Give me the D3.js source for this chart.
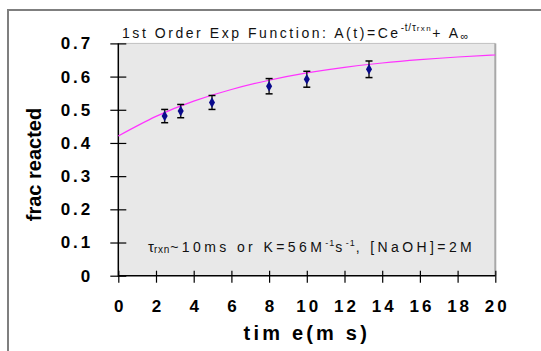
<!DOCTYPE html>
<html><head><meta charset="utf-8">
<script src="https://cdn.jsdelivr.net/npm/d3@7"></script>
<style>
body{margin:0;background:#fff;}
svg{display:block;font-family:"Liberation Sans",Arial,sans-serif;}
</style></head>
<body>
<svg id="c" width="541" height="351"></svg>
<script>
// data
const times = [2.46, 3.31, 4.97, 8.0, 10.0, 13.3];
const fracs = [0.481, 0.496, 0.522, 0.571, 0.592, 0.622];
const errs  = [0.020, 0.020, 0.021, 0.023, 0.024, 0.025];
const fitT  = [0, 2, 4, 6, 8, 10, 12, 14, 16, 18, 20];
const fitY  = [0.421, 0.480, 0.526, 0.561, 0.589, 0.611, 0.628, 0.641, 0.651, 0.659, 0.665];
const xTicks = [0, 2, 4, 6, 8, 10, 12, 14, 16, 18, 20];
const yTicks = [0, 0.1, 0.2, 0.3, 0.4, 0.5, 0.6, 0.7];
const yTickLabels = ["0", "0.1", "0.2", "0.3", "0.4", "0.5", "0.6", "0.7"];

const svg = d3.select("#c");
const L = 118.3, R = 495.3, T = 43.4, B = 275.7;
const x = d3.scaleLinear().domain([0, 20]).range([L, R]);
const y = d3.scaleLinear().domain([0, 0.7]).range([B, T]);

// outer frame
svg.append("rect").attr("x", 8).attr("y", 10).attr("width", 560).attr("height", 360)
  .attr("fill", "none").attr("stroke", "#7f7f7f").attr("stroke-width", 2);

// plot area
svg.append("rect").attr("x", L).attr("y", T).attr("width", R - L).attr("height", B - T)
  .attr("fill", "#e8e8e8");
svg.append("line").attr("x1", L).attr("x2", R).attr("y1", T).attr("y2", T)
  .attr("stroke", "#c0c0c0").attr("stroke-width", 1);
svg.append("line").attr("x1", R).attr("x2", R).attr("y1", T).attr("y2", B)
  .attr("stroke", "#a8a8a8").attr("stroke-width", 2);

// axes
const yAxis = d3.axisLeft(y).tickValues(yTicks).tickSize(8)
  .tickFormat((d, i) => yTickLabels[i]);
const gy = svg.append("g").attr("transform", `translate(${L},0)`).call(yAxis);
gy.select(".domain").remove();
gy.selectAll(".tick line").attr("x1", -8).attr("x2", 8).attr("stroke", "#000").attr("stroke-width", 1.2);
gy.selectAll(".tick text").attr("x", -25).attr("font-size", 17).attr("font-weight", "bold")
  .attr("letter-spacing", "3px").attr("fill", "#000").attr("font-family", "Liberation Sans, Arial, sans-serif");

const xAxis = d3.axisBottom(x).tickValues(xTicks).tickFormat(d3.format("d"));
const gx = svg.append("g").attr("transform", `translate(0,${B})`).call(xAxis);
gx.select(".domain").remove();
gx.selectAll(".tick line").attr("y1", -5).attr("y2", 7).attr("stroke", "#000").attr("stroke-width", 1.2);
gx.selectAll(".tick text").attr("y", 24).attr("dy", "0.71em").attr("font-size", 17).attr("font-weight", "bold")
  .attr("letter-spacing", "3px").attr("dx", "1.5px").attr("fill", "#000").attr("font-family", "Liberation Sans, Arial, sans-serif");

svg.append("line").attr("x1", L).attr("x2", L).attr("y1", T).attr("y2", B + 1)
  .attr("stroke", "#000").attr("stroke-width", 1.5);
svg.append("line").attr("x1", L).attr("x2", R).attr("y1", B).attr("y2", B)
  .attr("stroke", "#000").attr("stroke-width", 1.5);

// fit curve
const line = d3.line().x((d, i) => x(fitT[i])).y(d => y(d)).curve(d3.curveNatural);
svg.append("path").attr("d", line(fitY)).attr("fill", "none").attr("stroke", "#ff33ff").attr("stroke-width", 1.2);

// error bars
const eb = svg.append("g");
times.forEach((t, i) => {
  const cx = x(t), y1 = y(fracs[i] + errs[i]), y2 = y(fracs[i] - errs[i]);
  eb.append("line").attr("x1", cx).attr("x2", cx).attr("y1", y1).attr("y2", y2).attr("stroke", "#222").attr("stroke-width", 1.5);
  eb.append("line").attr("x1", cx - 3.5).attr("x2", cx + 3.5).attr("y1", y1).attr("y2", y1).attr("stroke", "#000").attr("stroke-width", 1.5);
  eb.append("line").attr("x1", cx - 3.5).attr("x2", cx + 3.5).attr("y1", y2).attr("y2", y2).attr("stroke", "#000").attr("stroke-width", 1.5);
});
svg.append("g").selectAll("path").data(times).join("path")
  .attr("d", d3.symbol(d3.symbolDiamond, 32))
  .attr("transform", (d, i) => `translate(${x(d)},${y(fracs[i])})`)
  .attr("fill", "#0a0a8c");

// axis titles
svg.append("text").attr("transform", `translate(41,${(T + B) / 2 + 5}) rotate(-90)`)
  .attr("text-anchor", "middle").attr("font-size", 20).attr("font-weight", "bold").text("frac reacted");
svg.append("text").attr("x", (L + R) / 2).attr("y", 340).attr("text-anchor", "middle")
  .attr("font-size", 20).attr("font-weight", "bold").attr("letter-spacing", "3.2px").text("tim e(m s)");

// chart title
const title = svg.append("text").attr("x", 122).attr("y", 37.5).attr("font-size", 14).attr("letter-spacing", "2.55px").attr("fill", "#111");
title.append("tspan").text("1st Order Exp Function: A(t)=Ce");
title.append("tspan").attr("dy", -7).attr("font-size", 10).attr("letter-spacing", "0.8px").text("-t/τ");
title.append("tspan").attr("font-size", 8).attr("letter-spacing", "1.5px").text("rxn");
title.append("tspan").attr("dy", 7).attr("font-size", 14).attr("letter-spacing", "2.55px").text("+ A");
title.append("tspan").attr("dy", 2).attr("font-size", 11).text("∞");

// annotation
const ann = svg.append("text").attr("x", 148).attr("y", 252).attr("font-size", 14).attr("letter-spacing", "3.4px").attr("fill", "#111");
ann.append("tspan").attr("font-size", 15).attr("letter-spacing", "0px").text("τ");
ann.append("tspan").attr("font-size", 10).attr("dy", 1).attr("letter-spacing", "0.8px").text("rxn");
ann.append("tspan").attr("dy", -1).text("~10ms or K=56M");
ann.append("tspan").attr("font-size", 9).attr("dy", -6).attr("letter-spacing", "1px").text("-1");
ann.append("tspan").attr("font-size", 14).attr("dy", 6).text("s");
ann.append("tspan").attr("font-size", 9).attr("dy", -6).attr("letter-spacing", "1px").text("-1");
ann.append("tspan").attr("font-size", 14).attr("dy", 6).text(", [NaOH]=2M");
</script>
</body></html>
